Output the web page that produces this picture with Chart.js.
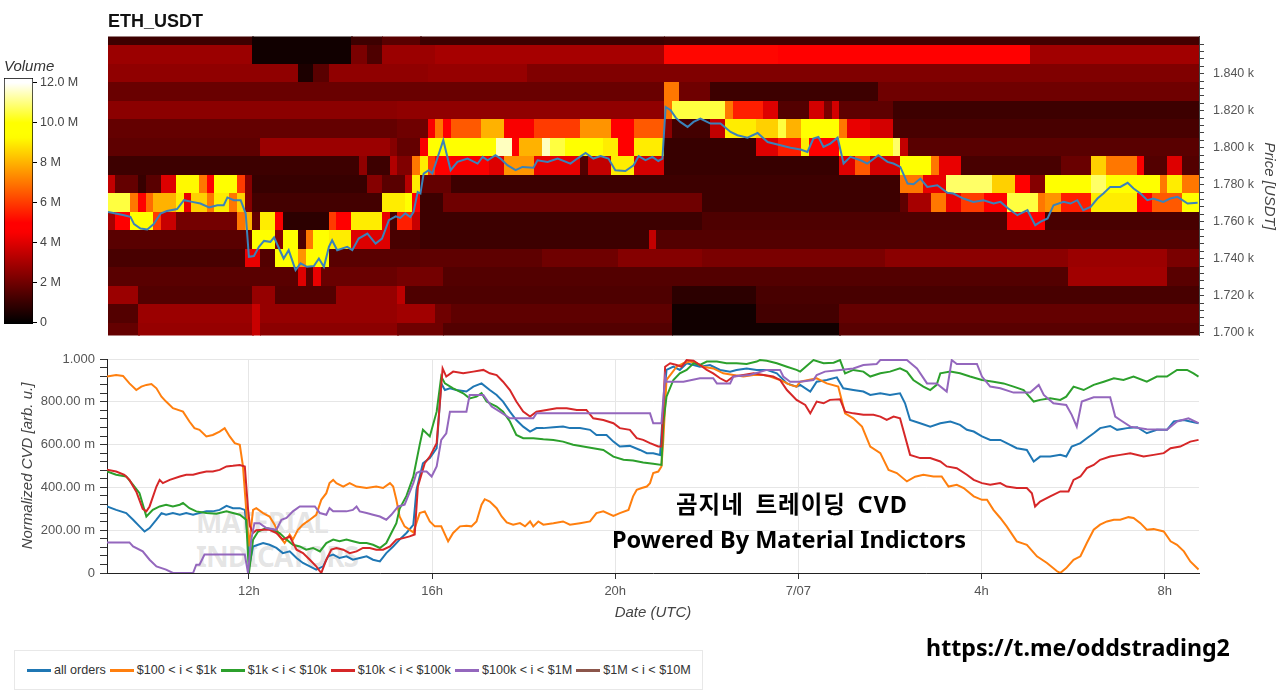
<!DOCTYPE html>
<html>
<head>
<meta charset="utf-8">
<script src="https://cdn.jsdelivr.net/npm/chart.js@4.4.0/dist/chart.umd.min.js"></script>
<style>
  body { margin: 0; width: 1280px; height: 691px; background: #fff; position: relative; overflow: hidden; }
  canvas { position: absolute; left: 0; }
  #heat { top: 0; }
  #cbar { top: 50px; }
  #cvd { top: 345px; z-index: 1; }
  .overlay { position: absolute; transform: translate(-50%, -50%); font-family: "Noto Sans", "Noto Sans CJK KR", sans-serif; font-weight: bold; color: #000; white-space: nowrap; line-height: 1; z-index: 2; }
  #watermark { position: absolute; left: 196px; top: 505px; font: bold 28px/34px "Noto Sans", sans-serif; color: rgba(120, 120, 120, 0.2); letter-spacing: -1px; z-index: 0; }
  #legend { position: absolute; left: 14px; top: 650px; width: 689px; height: 40px; box-sizing: border-box; border: 1px solid #e8e8e8; display: flex; align-items: center; padding-left: 12px; font: 12.6px "Liberation Sans", Arial, sans-serif; color: #333; white-space: nowrap; }
  #legend .item { display: inline-flex; align-items: center; margin-right: 4px; }
  #legend .item i { display: inline-block; width: 24px; height: 3px; margin-right: 3px; }
</style>
</head>
<body>
<canvas id="heat" width="1280" height="352"></canvas>
<canvas id="cbar" width="104" height="290"></canvas>
<div id="watermark">MATERIAL<br>INDICATORS</div>
<canvas id="cvd" width="1280" height="300"></canvas>
<div class="overlay" style="left:792px; top:505px; font-size:23.5px; letter-spacing:1px; word-spacing:4.5px;">곰지네 트레이딩 CVD</div>
<div class="overlay" style="left:789px; top:540px; font-size:23.5px;">Powered By Material Indictors</div>
<div class="overlay" style="left:1078px; top:648px; font-size:23.2px;">https://t.me/oddstrading2</div>
<div id="legend"></div>
<script>
// Eje de tiempo (horas desde 7/06 00:00 UTC)
const timeMin = 8.9;
const timeMax = 32.75;
const timeTicks = [12, 16, 20, 24, 28, 32];
const timeLabels = ['12h', '16h', '20h', '7/07', '4h', '8h'];

// Escala de volumen (millones)
const volMax = 12;
const volumeTicks = [0, 2, 4, 6, 8, 10, 12];
const volumeLabels = ['0', '2 M', '4 M', '6 M', '8 M', '10.0 M', '12.0 M'];

// Mapa de calor: filas de 10 USDT, columnas de 10 minutos, [volumen M, nº columnas]
const heatStart = 8.9;
const colStep = 1 / 6;
const rowStep = 10;
const heat1860 = [[1.1,19],[0.3,13],[1.1,4],[1.6,5],[1.1,32],[1.2,70]];
const heat1850 = [[2.8,19],[0.3,13],[2.2,2],[1.4,2],[2.8,7],[3.0,30],[5.1,15],[5.0,33],[2.9,22]];
const heat1840 = [[2.6,25],[0.5,2],[1.6,2],[2.6,13],[2.7,13],[2.3,68],[2.3,20]];
const heat1830 = [[1.9,38],[1.9,35],[7,2],[2.0,4],[1.1,22],[2.0,42]];
const heat1820 = [[2.5,38],[2.6,35],[7,1],[10.5,7],[7,1],[5.5,4],[4,2],[1.5,4],[3.8,2],[2.2,1],[3.8,1],[1.7,7],[1.1,40]];
const heat1810 = [[1.8,38],[2.0,4],[4.5,1],[7,1],[5,1],[6.5,4],[8,3],[4.5,4],[6,6],[7.5,4],[4.7,3],[6.5,4],[2.5,1],[1.2,5],[3.5,2],[9,4],[8.5,3],[10.5,1],[8,2],[9.5,5],[7,1],[4.2,3],[3.8,3],[1.3,40]];
const heat1800 = [[1.7,20],[2.8,17],[2.4,1],[1.8,3],[4.5,1],[9.5,9],[11.5,2],[4.6,1],[8,3],[11.5,1],[10.5,2],[9.7,5],[9,2],[5,2],[9,4],[1.0,12],[4,3],[5.5,3],[9,1],[5,4],[9.8,7],[10.8,1],[3.5,1],[1.6,38]];
const heat1790 = [[1.1,33],[2.6,1],[1.1,3],[3.2,1],[2.3,2],[7,1],[9,1],[6,1],[5,2],[4.5,5],[4,2],[7.5,4],[4.2,6],[1.5,1],[3.5,3],[9,3],[3.8,4],[1.0,23],[4,2],[6.5,2],[3.8,4],[9.8,4],[7,1],[4.2,3],[1.3,13],[1.9,4],[8.5,2],[7,4],[4.5,1],[1.5,3],[4,2],[1.5,2]];
const heat1780 = [[3.5,1],[1.8,3],[1.0,1],[1.6,2],[4,2],[9.2,3],[7,1],[4.7,1],[9.5,3],[6,1],[2.4,1],[1.0,15],[2.4,2],[1.6,3],[3.3,1],[9,1],[1.8,4],[1.1,59],[7,3],[4.2,3],[10.8,6],[8.5,3],[4.7,2],[2.4,2],[9.3,6],[10.8,2],[9.3,7],[7,1],[9,2],[7,2]];
const heat1770 = [[10.5,3],[7,1],[4.7,1],[6.8,1],[8,3],[9,1],[4.2,1],[8.5,2],[7,1],[9,2],[7,1],[8.5,1],[2.4,1],[1.2,17],[9,3],[9.5,1],[5,1],[1.1,3],[2.0,34],[1.1,26],[1.7,1],[3.0,3],[7,2],[4.2,2],[6,3],[4.7,3],[10.5,4],[7,1],[7.5,2],[5.5,4],[9,6],[4.7,2],[6.5,4],[9.8,2]];
const heat1760 = [[3.0,1],[4.7,2],[9.7,3],[6,1],[3.6,2],[2.1,8],[7,1],[8,1],[1.8,1],[9,2],[4.5,1],[0.8,6],[6,1],[4.7,2],[9,4],[4.2,1],[1.3,1],[5.5,2],[3.6,1],[1.1,37],[1.4,40],[4.4,3],[4.8,2],[1.3,20]];
const heat1750 = [[1.6,18],[1.8,1],[9.5,3],[2.4,1],[9.5,2],[1.4,1],[7,1],[9.5,2],[9,3],[4,5],[1.3,4],[1.1,30],[3.5,1],[1.5,71]];
const heat1740 = [[1.3,18],[4.2,2],[1.5,2],[9.5,3],[7.5,1],[10,3],[1.6,12],[1.7,16],[2.0,10],[2.4,11],[2.2,24],[2.5,24],[2.8,13],[2.2,4]];
const heat1730 = [[1.6,25],[4,1],[1.6,1],[4.2,1],[1.9,10],[2.1,6],[1.5,82],[2.9,13],[1.6,4]];
const heat1720 = [[2.8,4],[1.5,15],[2.7,3],[1.5,8],[2.7,8],[3.4,1],[1.4,35],[0.8,11],[1.3,58]];
const heat1710 = [[1.5,4],[2.8,15],[3.6,1],[2.7,18],[2.9,5],[2.0,2],[1.7,29],[0.3,11],[1.2,11],[1.8,47]];
const heat1700 = [[1.8,4],[2.7,15],[3.6,1],[2.5,18],[2.0,6],[1.5,30],[0.3,22],[1.6,47]];
const heatPrices = [1860, 1850, 1840, 1830, 1820, 1810, 1800, 1790, 1780, 1770, 1760, 1750, 1740, 1730, 1720, 1710, 1700];
const heatRows = [heat1860, heat1850, heat1840, heat1830, heat1820, heat1810, heat1800, heat1790, heat1780, heat1770, heat1760, heat1750, heat1740, heat1730, heat1720, heat1710, heat1700];

// Precio ETH [hora, USDT]
const priceLine = [[8.90,1765.3],[9.07,1764.4],[9.25,1763.5],[9.39,1762.6],[9.47,1758.7],[9.61,1756.3],[9.76,1755.8],[9.90,1758.7],[10.05,1764.4],[10.19,1765.8],[10.41,1766.8],[10.56,1771.6],[10.74,1770.7],[10.92,1769.8],[11.11,1767.7],[11.29,1768.9],[11.43,1768.9],[11.51,1773.1],[11.65,1771.6],[11.80,1771.6],[11.91,1764.4],[11.98,1741.0],[12.09,1741.4],[12.20,1746.4],[12.31,1749.6],[12.45,1749.1],[12.53,1751.5],[12.64,1745.5],[12.74,1740.1],[12.85,1744.6],[13.00,1733.8],[13.11,1737.5],[13.25,1735.6],[13.40,1736.0],[13.51,1740.1],[13.62,1735.6],[13.73,1746.4],[13.80,1750.0],[13.91,1744.6],[14.13,1746.4],[14.24,1744.6],[14.38,1750.9],[14.57,1753.6],[14.75,1748.2],[14.89,1750.9],[15.04,1760.8],[15.19,1762.9],[15.29,1762.0],[15.40,1764.5],[15.51,1762.5],[15.58,1765.3],[15.67,1776.0],[15.73,1775.2],[15.80,1786.0],[15.91,1787.8],[15.99,1786.0],[16.23,1804.0],[16.39,1787.8],[16.54,1792.3],[16.76,1794.1],[16.98,1791.4],[17.09,1795.0],[17.20,1793.2],[17.37,1795.9],[17.48,1794.1],[17.63,1790.5],[17.81,1787.8],[17.96,1789.6],[18.20,1789.2],[18.29,1793.2],[18.51,1792.3],[18.73,1794.1],[19.01,1791.4],[19.16,1794.1],[19.34,1797.1],[19.51,1794.1],[19.67,1795.4],[19.84,1794.1],[19.99,1787.8],[20.21,1787.4],[20.39,1790.5],[20.50,1795.4],[20.65,1793.2],[20.80,1795.0],[20.93,1792.8],[21.02,1794.1],[21.09,1822.0],[21.20,1820.2],[21.31,1816.2],[21.41,1813.9],[21.57,1811.2],[21.70,1813.9],[21.85,1815.7],[22.07,1813.0],[22.29,1813.0],[22.51,1808.5],[22.66,1806.7],[22.88,1805.4],[23.10,1807.9],[23.32,1803.0],[23.60,1801.3],[23.82,1800.0],[24.04,1799.0],[24.19,1797.7],[24.32,1804.9],[24.43,1805.8],[24.54,1800.4],[24.69,1802.2],[24.85,1805.4],[24.98,1791.4],[25.13,1795.0],[25.35,1793.2],[25.50,1791.4],[25.74,1795.9],[25.94,1792.3],[26.07,1791.4],[26.22,1789.6],[26.38,1780.6],[26.51,1780.2],[26.66,1783.3],[26.81,1778.8],[27.03,1779.7],[27.25,1775.6],[27.38,1775.2],[27.60,1772.5],[27.82,1770.7],[28.04,1771.6],[28.26,1769.8],[28.41,1770.7],[28.58,1767.1],[28.78,1763.5],[29.00,1766.2],[29.17,1758.1],[29.28,1759.9],[29.44,1761.7],[29.57,1768.9],[29.79,1770.7],[29.94,1769.8],[30.09,1771.6],[30.22,1766.2],[30.38,1768.0],[30.53,1772.5],[30.66,1775.2],[30.81,1778.8],[31.03,1778.8],[31.19,1781.0],[31.32,1777.9],[31.47,1775.2],[31.62,1771.6],[31.75,1772.5],[31.97,1770.7],[32.12,1772.5],[32.28,1773.4],[32.50,1769.8],[32.72,1770.2]];

// CVD normalizado [hora, valor] por tamaño de orden
const allOrders = [[8.90,0.311],[9.10,0.295],[9.32,0.280],[9.47,0.249],[9.61,0.218],[9.72,0.194],[9.83,0.210],[9.98,0.249],[10.09,0.280],[10.19,0.272],[10.34,0.280],[10.49,0.272],[10.63,0.280],[10.78,0.272],[10.92,0.280],[11.07,0.288],[11.21,0.288],[11.36,0.295],[11.51,0.314],[11.65,0.303],[11.80,0.303],[11.91,0.295],[11.98,0.156],[12.02,0.047],[12.09,0.124],[12.20,0.132],[12.31,0.140],[12.45,0.132],[12.60,0.117],[12.74,0.093],[12.89,0.101],[13.04,0.070],[13.18,0.047],[13.33,0.031],[13.47,0.016],[13.62,0.031],[13.73,0.078],[13.84,0.086],[13.98,0.070],[14.13,0.078],[14.27,0.062],[14.42,0.070],[14.57,0.078],[14.71,0.062],[14.86,0.054],[15.00,0.093],[15.15,0.124],[15.29,0.156],[15.44,0.187],[15.59,0.225],[15.66,0.389],[15.80,0.513],[15.95,0.537],[16.10,0.583],[16.20,0.886],[16.28,0.855],[16.39,0.863],[16.53,0.855],[16.75,0.848],[16.90,0.871],[17.08,0.886],[17.26,0.855],[17.41,0.832],[17.55,0.801],[17.70,0.754],[17.84,0.715],[17.99,0.684],[18.14,0.661],[18.28,0.677],[18.43,0.677],[18.65,0.681],[18.86,0.684],[19.01,0.677],[19.23,0.677],[19.45,0.669],[19.59,0.645],[19.81,0.645],[19.96,0.614],[20.10,0.591],[20.32,0.594],[20.54,0.575],[20.69,0.560],[20.83,0.560],[20.98,0.552],[21.05,0.778],[21.12,0.949],[21.27,0.964],[21.41,0.949],[21.56,0.980],[21.71,0.972],[21.85,0.964],[22.07,0.972],[22.29,0.949],[22.51,0.941],[22.65,0.949],[22.87,0.956],[23.09,0.949],[23.31,0.949],[23.53,0.933],[23.75,0.886],[23.96,0.871],[24.04,0.879],[24.26,0.848],[24.40,0.894],[24.62,0.902],[24.84,0.914],[24.98,0.863],[25.20,0.855],[25.42,0.848],[25.57,0.832],[25.79,0.840],[26.00,0.832],[26.22,0.840],[26.33,0.793],[26.44,0.715],[26.66,0.700],[26.88,0.684],[27.10,0.700],[27.32,0.708],[27.53,0.692],[27.68,0.669],[27.83,0.661],[28.01,0.638],[28.19,0.622],[28.41,0.622],[28.55,0.607],[28.77,0.583],[28.99,0.575],[29.14,0.521],[29.28,0.544],[29.50,0.544],[29.72,0.552],[29.85,0.544],[29.97,0.591],[30.16,0.607],[30.30,0.630],[30.45,0.653],[30.59,0.677],[30.81,0.687],[30.96,0.669],[31.18,0.677],[31.40,0.681],[31.61,0.653],[31.83,0.669],[32.05,0.669],[32.20,0.708],[32.42,0.715],[32.56,0.708],[32.74,0.700]];
const orders100to1k = [[8.90,0.918],[9.10,0.925],[9.25,0.921],[9.39,0.886],[9.54,0.855],[9.65,0.871],[9.76,0.879],[9.87,0.883],[9.98,0.863],[10.09,0.824],[10.19,0.801],[10.34,0.770],[10.56,0.754],[10.70,0.708],[10.81,0.677],[10.92,0.669],[11.07,0.638],[11.21,0.645],[11.36,0.661],[11.47,0.677],[11.58,0.638],[11.69,0.607],[11.80,0.599],[11.87,0.498],[12.00,0.124],[12.09,0.295],[12.16,0.303],[12.31,0.280],[12.45,0.264],[12.56,0.226],[12.67,0.171],[12.78,0.140],[12.89,0.179],[12.96,0.156],[13.07,0.202],[13.18,0.226],[13.33,0.249],[13.47,0.272],[13.58,0.342],[13.69,0.373],[13.76,0.420],[13.84,0.435],[13.91,0.420],[14.06,0.404],[14.20,0.420],[14.35,0.404],[14.57,0.397],[14.78,0.404],[14.93,0.397],[15.08,0.420],[15.15,0.404],[15.22,0.342],[15.29,0.264],[15.40,0.218],[15.59,0.190],[15.73,0.280],[15.84,0.288],[15.95,0.241],[16.06,0.218],[16.20,0.218],[16.35,0.148],[16.46,0.187],[16.61,0.218],[16.75,0.221],[16.86,0.218],[16.97,0.241],[17.08,0.319],[17.15,0.345],[17.26,0.334],[17.41,0.303],[17.52,0.264],[17.63,0.236],[17.77,0.226],[17.92,0.233],[18.03,0.218],[18.14,0.241],[18.21,0.218],[18.32,0.241],[18.43,0.226],[18.65,0.233],[18.86,0.241],[19.01,0.226],[19.23,0.233],[19.45,0.241],[19.59,0.280],[19.74,0.288],[19.96,0.267],[20.10,0.280],[20.29,0.295],[20.39,0.358],[20.47,0.389],[20.58,0.397],[20.69,0.404],[20.76,0.420],[20.83,0.467],[20.94,0.474],[21.01,0.498],[21.05,0.622],[21.12,0.902],[21.23,0.933],[21.34,0.964],[21.49,0.980],[21.63,0.988],[21.78,0.980],[21.92,0.964],[22.14,0.956],[22.36,0.933],[22.58,0.925],[22.80,0.918],[23.02,0.925],[23.24,0.925],[23.38,0.918],[23.60,0.902],[23.82,0.879],[23.96,0.871],[24.04,0.894],[24.40,0.910],[24.62,0.886],[24.87,0.871],[25.02,0.746],[25.20,0.723],[25.39,0.684],[25.57,0.591],[25.79,0.560],[25.97,0.482],[26.15,0.467],[26.37,0.428],[26.55,0.450],[26.73,0.459],[26.95,0.451],[27.13,0.451],[27.28,0.404],[27.46,0.412],[27.61,0.397],[27.83,0.358],[28.01,0.342],[28.12,0.342],[28.26,0.295],[28.41,0.257],[28.55,0.218],[28.77,0.148],[28.99,0.132],[29.21,0.078],[29.43,0.047],[29.65,0.008],[29.72,0.000],[29.85,0.023],[30.01,0.062],[30.16,0.078],[30.30,0.140],[30.45,0.202],[30.59,0.226],[30.74,0.241],[30.89,0.249],[31.03,0.249],[31.21,0.261],[31.32,0.257],[31.47,0.233],[31.61,0.202],[31.76,0.205],[31.98,0.194],[32.13,0.148],[32.27,0.132],[32.42,0.101],[32.56,0.054],[32.74,0.016]];
const orders1kto10k = [[8.90,0.474],[9.10,0.459],[9.32,0.451],[9.47,0.412],[9.61,0.373],[9.76,0.264],[9.90,0.295],[10.05,0.311],[10.19,0.319],[10.34,0.311],[10.49,0.319],[10.56,0.327],[10.70,0.303],[10.85,0.288],[11.07,0.280],[11.29,0.277],[11.51,0.288],[11.65,0.280],[11.80,0.272],[11.94,0.249],[12.00,0.000],[12.09,0.156],[12.20,0.194],[12.38,0.210],[12.53,0.202],[12.67,0.187],[12.82,0.156],[12.96,0.132],[13.11,0.124],[13.25,0.109],[13.40,0.117],[13.55,0.101],[13.69,0.140],[13.84,0.156],[13.98,0.148],[14.13,0.156],[14.27,0.148],[14.42,0.140],[14.57,0.140],[14.71,0.132],[14.86,0.117],[15.00,0.140],[15.11,0.187],[15.22,0.233],[15.29,0.300],[15.44,0.360],[15.59,0.450],[15.73,0.600],[15.80,0.669],[15.95,0.638],[16.10,0.754],[16.20,0.918],[16.28,0.886],[16.46,0.863],[16.68,0.840],[16.82,0.816],[16.97,0.824],[17.08,0.840],[17.19,0.801],[17.41,0.778],[17.55,0.754],[17.70,0.708],[17.84,0.645],[17.99,0.630],[18.21,0.630],[18.43,0.625],[18.65,0.622],[18.86,0.614],[19.08,0.599],[19.30,0.591],[19.52,0.583],[19.74,0.575],[19.96,0.544],[20.18,0.529],[20.39,0.526],[20.61,0.516],[20.83,0.510],[21.01,0.505],[21.05,0.700],[21.12,0.824],[21.27,0.902],[21.41,0.933],[21.56,0.949],[21.71,0.980],[21.85,0.972],[22.00,0.988],[22.22,0.988],[22.43,0.980],[22.65,0.980],[22.87,0.977],[23.09,0.988],[23.16,0.995],[23.31,0.992],[23.53,0.980],[23.75,0.964],[23.96,0.949],[24.04,0.941],[24.33,0.995],[24.55,0.980],[24.77,0.983],[24.91,0.995],[25.02,0.933],[25.20,0.949],[25.42,0.941],[25.57,0.918],[25.79,0.933],[26.00,0.941],[26.22,0.956],[26.37,0.941],[26.51,0.902],[26.73,0.871],[26.88,0.855],[27.02,0.879],[27.10,0.933],[27.32,0.941],[27.53,0.933],[27.75,0.918],[28.01,0.902],[28.26,0.894],[28.48,0.886],[28.70,0.871],[28.92,0.855],[29.14,0.801],[29.28,0.809],[29.50,0.816],[29.72,0.809],[29.85,0.824],[30.01,0.871],[30.23,0.855],[30.45,0.879],[30.67,0.894],[30.89,0.910],[31.10,0.902],[31.32,0.918],[31.61,0.894],[31.83,0.918],[32.05,0.918],[32.27,0.949],[32.49,0.949],[32.63,0.933],[32.74,0.918]];
const orders10kto100k = [[8.90,0.482],[9.10,0.474],[9.28,0.459],[9.39,0.435],[9.54,0.380],[9.68,0.300],[9.76,0.288],[9.83,0.311],[9.98,0.404],[10.05,0.435],[10.12,0.420],[10.27,0.435],[10.49,0.451],[10.63,0.459],[10.78,0.459],[10.92,0.467],[11.07,0.474],[11.21,0.474],[11.36,0.482],[11.51,0.498],[11.65,0.501],[11.80,0.505],[11.91,0.498],[11.98,0.300],[12.02,0.220],[12.09,0.187],[12.16,0.200],[12.31,0.202],[12.45,0.202],[12.60,0.187],[12.74,0.156],[12.89,0.171],[13.04,0.109],[13.18,0.093],[13.33,0.062],[13.47,0.031],[13.58,0.000],[13.69,0.062],[13.80,0.109],[13.91,0.117],[14.06,0.109],[14.20,0.093],[14.35,0.101],[14.49,0.117],[14.64,0.117],[14.78,0.109],[14.93,0.109],[15.08,0.124],[15.22,0.156],[15.37,0.163],[15.51,0.171],[15.62,0.180],[15.69,0.404],[15.84,0.513],[15.95,0.544],[16.10,0.607],[16.23,0.956],[16.31,0.918],[16.46,0.941],[16.68,0.933],[16.90,0.941],[17.12,0.949],[17.26,0.933],[17.41,0.925],[17.55,0.894],[17.70,0.855],[17.84,0.801],[17.99,0.754],[18.14,0.731],[18.28,0.754],[18.50,0.762],[18.72,0.770],[18.94,0.770],[19.16,0.762],[19.37,0.762],[19.52,0.723],[19.74,0.715],[19.96,0.700],[20.10,0.677],[20.32,0.669],[20.47,0.630],[20.61,0.622],[20.76,0.607],[20.94,0.591],[21.01,0.591],[21.09,0.964],[21.20,0.980],[21.34,0.972],[21.45,0.964],[21.56,0.995],[21.71,0.992],[21.85,0.972],[22.00,0.949],[22.14,0.933],[22.29,0.910],[22.43,0.894],[22.58,0.918],[22.80,0.925],[23.02,0.933],[23.24,0.925],[23.45,0.918],[23.60,0.902],[23.75,0.855],[23.96,0.809],[24.15,0.785],[24.26,0.746],[24.40,0.801],[24.55,0.793],[24.69,0.809],[24.91,0.812],[25.02,0.754],[25.20,0.746],[25.42,0.739],[25.64,0.739],[25.79,0.731],[25.93,0.715],[26.08,0.731],[26.22,0.723],[26.33,0.638],[26.44,0.552],[26.66,0.537],[26.88,0.537],[27.10,0.521],[27.24,0.498],[27.46,0.490],[27.68,0.459],[27.83,0.435],[28.01,0.420],[28.19,0.412],[28.41,0.420],[28.55,0.404],[28.77,0.397],[28.99,0.397],[29.10,0.373],[29.17,0.311],[29.28,0.334],[29.50,0.358],[29.72,0.381],[29.90,0.381],[30.01,0.435],[30.16,0.451],[30.30,0.490],[30.45,0.505],[30.59,0.529],[30.81,0.544],[31.03,0.552],[31.25,0.560],[31.54,0.544],[31.76,0.552],[31.98,0.560],[32.13,0.583],[32.34,0.591],[32.56,0.614],[32.74,0.622]];
const orders100kto1M = [[8.90,0.143],[9.39,0.143],[9.47,0.124],[9.68,0.101],[9.83,0.062],[9.98,0.031],[10.19,0.016],[10.34,0.000],[10.78,0.000],[10.85,0.039],[10.92,0.039],[11.03,0.086],[11.21,0.086],[11.65,0.086],[11.91,0.086],[11.98,0.000],[12.05,0.156],[12.12,0.233],[12.23,0.233],[12.38,0.210],[12.60,0.202],[12.71,0.249],[12.82,0.257],[12.96,0.288],[13.11,0.311],[13.25,0.311],[13.44,0.311],[13.55,0.280],[13.69,0.272],[13.76,0.303],[13.84,0.288],[14.13,0.288],[14.27,0.295],[14.35,0.311],[14.42,0.288],[14.57,0.280],[14.71,0.272],[14.86,0.264],[15.00,0.249],[15.11,0.272],[15.26,0.311],[15.40,0.319],[15.44,0.340],[15.59,0.420],[15.66,0.467],[15.73,0.474],[15.88,0.474],[15.99,0.451],[16.10,0.498],[16.20,0.622],[16.31,0.653],[16.39,0.754],[16.75,0.754],[16.82,0.832],[17.12,0.832],[17.30,0.778],[17.48,0.754],[17.70,0.723],[18.21,0.723],[18.28,0.746],[20.76,0.746],[20.83,0.700],[21.01,0.700],[21.09,0.918],[21.12,0.894],[21.49,0.894],[21.85,0.910],[22.14,0.910],[22.22,0.886],[22.51,0.886],[22.58,0.918],[22.94,0.925],[23.31,0.949],[23.60,0.949],[23.67,0.918],[23.82,0.894],[24.04,0.894],[24.33,0.902],[24.40,0.925],[24.58,0.941],[24.91,0.949],[25.20,0.956],[25.42,0.972],[25.71,0.977],[25.79,0.995],[26.37,0.995],[26.59,0.956],[26.81,0.886],[27.02,0.886],[27.24,0.848],[27.35,0.995],[27.46,0.977],[27.90,0.977],[28.01,0.918],[28.19,0.871],[28.41,0.863],[28.70,0.843],[29.06,0.843],[29.25,0.879],[29.36,0.832],[29.57,0.793],[29.85,0.785],[29.97,0.739],[30.08,0.684],[30.19,0.801],[30.45,0.821],[30.81,0.821],[30.92,0.731],[31.03,0.715],[31.25,0.684],[31.61,0.672],[32.05,0.669],[32.27,0.708],[32.52,0.723],[32.74,0.700]];
const orders1Mto10M = [];

const seriesNames = ['all orders', '$100 < i < $1k', '$1k < i < $10k', '$10k < i < $100k', '$100k < i < $1M', '$1M < i < $10M'];
const seriesColors = ['#1f77b4', '#ff7f0e', '#2ca02c', '#d62728', '#9467bd', '#8c564b'];
const seriesData = [allOrders, orders100to1k, orders1kto10k, orders10kto100k, orders100kto1M, orders1Mto10M];

Chart.defaults.font.family = '"Liberation Sans", Arial, Helvetica, sans-serif';
Chart.defaults.color = '#444';

// Paleta tipo "hot": negro -> rojo -> amarillo -> blanco
function hotColor(vol) {
  const clamp = (v) => Math.max(0, Math.min(1, v));
  const r = clamp(vol / 4.6);
  const g = clamp((vol - 5.0) / 4.3);
  const b = clamp((vol - 10) / 2);
  return 'rgb(' + Math.round(r * 255) + ',' + Math.round(g * 255) + ',' + Math.round(b * 255) + ')';
}

// Celdas del mapa de calor dibujadas con las escalas del gráfico
const heatmapPlugin = {
  id: 'heatmap',
  beforeDatasetsDraw(chart) {
    const { ctx, chartArea, scales: { x, y } } = chart;
    ctx.save();
    ctx.beginPath();
    ctx.rect(chartArea.left, chartArea.top, chartArea.width, chartArea.height);
    ctx.clip();
    heatRows.forEach((runs, r) => {
      const yTop = y.getPixelForValue(heatPrices[r] + rowStep / 2);
      const yBot = y.getPixelForValue(heatPrices[r] - rowStep / 2);
      let col = 0;
      runs.forEach(([vol, n]) => {
        const x0 = x.getPixelForValue(heatStart + col * colStep);
        const x1 = x.getPixelForValue(heatStart + (col + n) * colStep);
        ctx.fillStyle = hotColor(vol);
        ctx.fillRect(Math.floor(x0), Math.floor(yTop), Math.ceil(x1 - x0) + 1, Math.ceil(yBot - yTop) + 1);
        col += n;
      });
    });
    ctx.restore();
  }
};

// Gráfico superior: mapa de calor + precio
const priceTickValues = [];
for (let v = 1700; v <= 1856; v += 4) priceTickValues.push(v);

new Chart(document.getElementById('heat'), {
  type: 'line',
  data: {
    datasets: [{
      data: priceLine.map(([t, p]) => ({ x: t, y: p })),
      borderColor: '#3a82ba',
      borderWidth: 2,
      pointRadius: 0,
      tension: 0
    }]
  },
  options: {
    responsive: false,
    animation: false,
    layout: { padding: { left: 108, right: 0, top: 0, bottom: 0 } },
    plugins: {
      legend: { display: false },
      tooltip: { enabled: false },
      title: { display: true, text: 'ETH_USDT', align: 'start', color: '#111', font: { size: 18, weight: 'bold' }, padding: { top: 11, bottom: 4 } }
    },
    scales: {
      x: { type: 'linear', min: timeMin, max: timeMax, display: false },
      y: {
        position: 'right',
        min: 1698.5,
        max: 1860,
        afterFit: (s) => { s.width = 81; },
        afterBuildTicks: (s) => { s.ticks = priceTickValues.map((v) => ({ value: v })); },
        ticks: { callback: (v) => (v % 20 === 0 ? (v / 1000).toFixed(3) + ' k' : ''), color: '#555', font: { size: 12.5 }, padding: 9, autoSkip: false },
        grid: { drawOnChartArea: false, tickLength: 5, tickColor: '#444' },
        border: { color: '#444' },
        title: { display: true, text: 'Price [USDT]', color: '#444', font: { size: 15, style: 'italic' }, padding: { top: 1.6 } }
      }
    }
  },
  plugins: [heatmapPlugin]
});

// Barra de color del volumen
function cbarGradient(context) {
  const chart = context.chart;
  if (!chart.chartArea) return null;
  const y = chart.scales.y;
  const g = chart.ctx.createLinearGradient(0, y.getPixelForValue(0), 0, y.getPixelForValue(volMax));
  for (let i = 0; i <= 48; i++) g.addColorStop(i / 48, hotColor(volMax * i / 48));
  return g;
}

new Chart(document.getElementById('cbar'), {
  type: 'bar',
  data: {
    labels: [''],
    datasets: [{
      data: [[-0.06, 12.24]],
      backgroundColor: cbarGradient,
      borderColor: '#000',
      borderWidth: 1,
      borderSkipped: false,
      barPercentage: 1,
      categoryPercentage: 1
    }]
  },
  options: {
    responsive: false,
    animation: false,
    layout: { padding: { left: 4, right: 0, top: 0, bottom: 16 } },
    plugins: {
      legend: { display: false },
      tooltip: { enabled: false },
      title: { display: true, text: 'Volume', align: 'start', color: '#333', font: { size: 15, style: 'italic', weight: 'normal' }, padding: { top: 8, bottom: 2 } }
    },
    scales: {
      x: { display: false },
      y: {
        position: 'right',
        min: -0.06,
        max: 12.24,
        afterFit: (s) => { s.width = 71; },
        afterBuildTicks: (s) => { s.ticks = volumeTicks.map((v) => ({ value: v })); },
        ticks: { callback: (v) => volumeLabels[volumeTicks.indexOf(v)], color: '#444', font: { size: 12.5 }, padding: 3 },
        grid: { drawOnChartArea: false, tickLength: 4, tickColor: '#000' },
        border: { display: false }
      }
    }
  }
});

// Gráfico inferior: CVD normalizado
const cvdTickValues = [];
for (let k = 0; k <= 25; k++) cvdTickValues.push(k / 25);
const isMajor = (v) => Math.round(v * 25) % 5 === 0;
function cvdLabel(v) {
  const k = Math.round(v * 25);
  if (k % 5) return '';
  if (k === 0) return '0';
  if (k === 25) return '1.000';
  return (v * 1000).toFixed(2) + ' m';
}

new Chart(document.getElementById('cvd'), {
  type: 'line',
  data: {
    datasets: seriesData.map((s, i) => ({
      label: seriesNames[i],
      data: s.map(([t, v]) => ({ x: t, y: v })),
      borderColor: seriesColors[i],
      borderWidth: 2,
      pointRadius: 0,
      tension: 0,
      order: seriesData.length - i
    }))
  },
  options: {
    responsive: false,
    animation: false,
    layout: { padding: { left: 0, right: 81, top: 14, bottom: 0 } },
    plugins: { legend: { display: false }, tooltip: { enabled: false } },
    scales: {
      x: {
        type: 'linear',
        min: timeMin,
        max: timeMax,
        afterFit: (s) => { s.height = 72; },
        afterBuildTicks: (s) => { s.ticks = timeTicks.map((v) => ({ value: v })); },
        ticks: { callback: (v) => timeLabels[timeTicks.indexOf(v)], color: '#555', font: { size: 13 }, padding: 5, maxRotation: 0, autoSkip: false },
        grid: { color: '#e6e6e6', tickColor: '#333', tickLength: 6 },
        border: { color: '#222' },
        title: { display: true, text: 'Date (UTC)', color: '#444', font: { size: 15, style: 'italic' }, padding: { top: 0, bottom: 23 } }
      },
      y: {
        min: 0,
        max: 1,
        afterFit: (s) => { s.width = 107; },
        afterBuildTicks: (s) => { s.ticks = cvdTickValues.map((v) => ({ value: v })); },
        ticks: { callback: cvdLabel, color: '#555', font: { size: 13 }, padding: 5, autoSkip: false },
        grid: { color: (c) => (isMajor(c.tick.value) ? '#e6e6e6' : 'rgba(0,0,0,0)'), tickColor: '#333', tickLength: 7 },
        border: { color: '#222' },
        title: { display: true, text: 'Normalized CVD [arb. u.]', color: '#444', font: { size: 15, style: 'italic' }, padding: { top: 18.6 } }
      }
    }
  }
});

// Leyenda
const legendBox = document.getElementById('legend');
seriesNames.forEach((name, i) => {
  const item = document.createElement('span');
  item.className = 'item';
  const swatch = document.createElement('i');
  swatch.style.background = seriesColors[i];
  item.appendChild(swatch);
  item.appendChild(document.createTextNode(name));
  legendBox.appendChild(item);
});
</script>
</body>
</html>
